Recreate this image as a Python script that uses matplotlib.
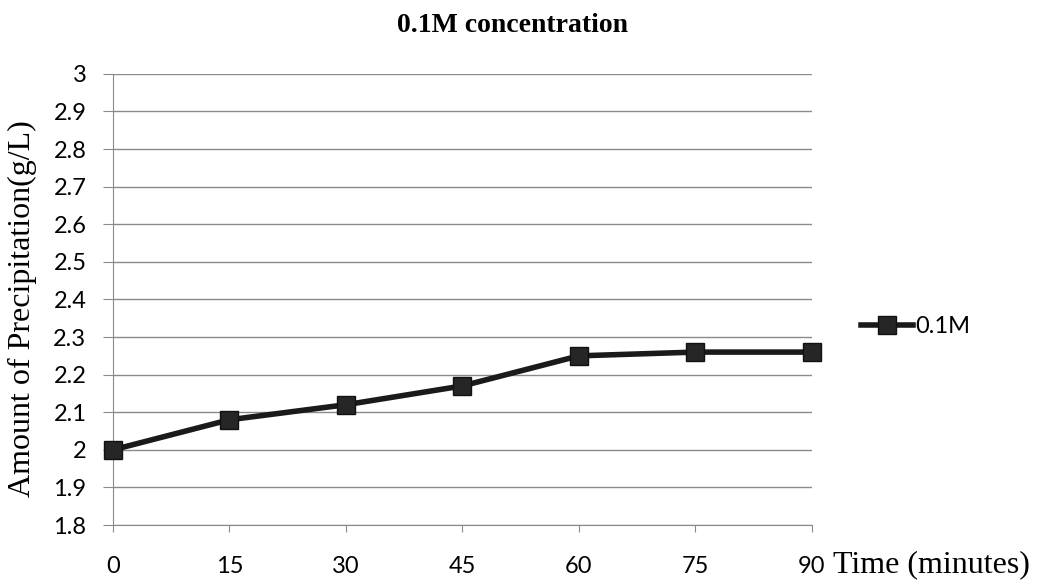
import matplotlib
matplotlib.use('Agg')
import matplotlib.pyplot as plt

times = [0, 15, 30, 45, 60, 75, 90]
precip = [2.00, 2.08, 2.12, 2.17, 2.25, 2.26, 2.26]
y_ticks = [1.8, 1.9, 2.0, 2.1, 2.2, 2.3, 2.4, 2.5, 2.6, 2.7, 2.8, 2.9, 3.0]
y_labels = ['1.8', '1.9', '2', '2.1', '2.2', '2.3', '2.4', '2.5', '2.6', '2.7', '2.8', '2.9', '3']

sans = ['Lato', 'DejaVu Sans']
serif = ['Liberation Serif', 'DejaVu Serif']

fig = plt.figure(figsize=(10.45, 5.86), dpi=100)
ax = fig.add_axes([0.108, 0.104, 0.669, 0.770])

x = list(range(len(times)))
ax.plot(x, precip, color='#1a1a1a', linewidth=4, marker='s', markersize=13,
        markerfacecolor='#262626', markeredgecolor='#111111', label='0.1M',
        zorder=3, clip_on=False)

ax.set_xlim(0, len(times) - 1)
ax.set_ylim(1.8, 3.0)
ax.set_xticks(x)
ax.set_xticklabels([str(t) for t in times], fontfamily=sans, fontsize=17)
ax.set_yticks(y_ticks)
ax.set_yticklabels(y_labels, fontfamily=sans, fontsize=17)

ax.yaxis.grid(True, color='#8a8a8a', linewidth=1)
ax.set_axisbelow(True)
for s in ['top', 'right']:
    ax.spines[s].set_visible(False)
ax.spines['left'].set_color('#8a8a8a')
ax.spines['bottom'].set_color('#8a8a8a')
ax.tick_params(axis='x', direction='out', length=5, color='#8a8a8a', pad=17)
ax.tick_params(axis='y', direction='out', length=7, color='#8a8a8a', pad=12)

ax.set_ylabel('Amount of Precipitation(g/L)', fontfamily=serif, fontsize=23, va='center')
ax.yaxis.set_label_coords(-0.13, 0.48)
ax.set_xlabel('Time (minutes)', fontfamily=serif, fontsize=23, ha='left', va='center')
ax.xaxis.set_label_coords(1.03, -0.089)

fig.text(0.49, 0.956, '0.1M concentration', fontfamily=serif, fontweight='bold',
         fontsize=20, ha='center', va='center')

ax.legend(loc='center left', bbox_to_anchor=(1.04, 0.439), frameon=False,
          prop={'family': sans, 'size': 17}, handlelength=2.2, handletextpad=0.1)

fig.savefig('out.png', dpi=100)
